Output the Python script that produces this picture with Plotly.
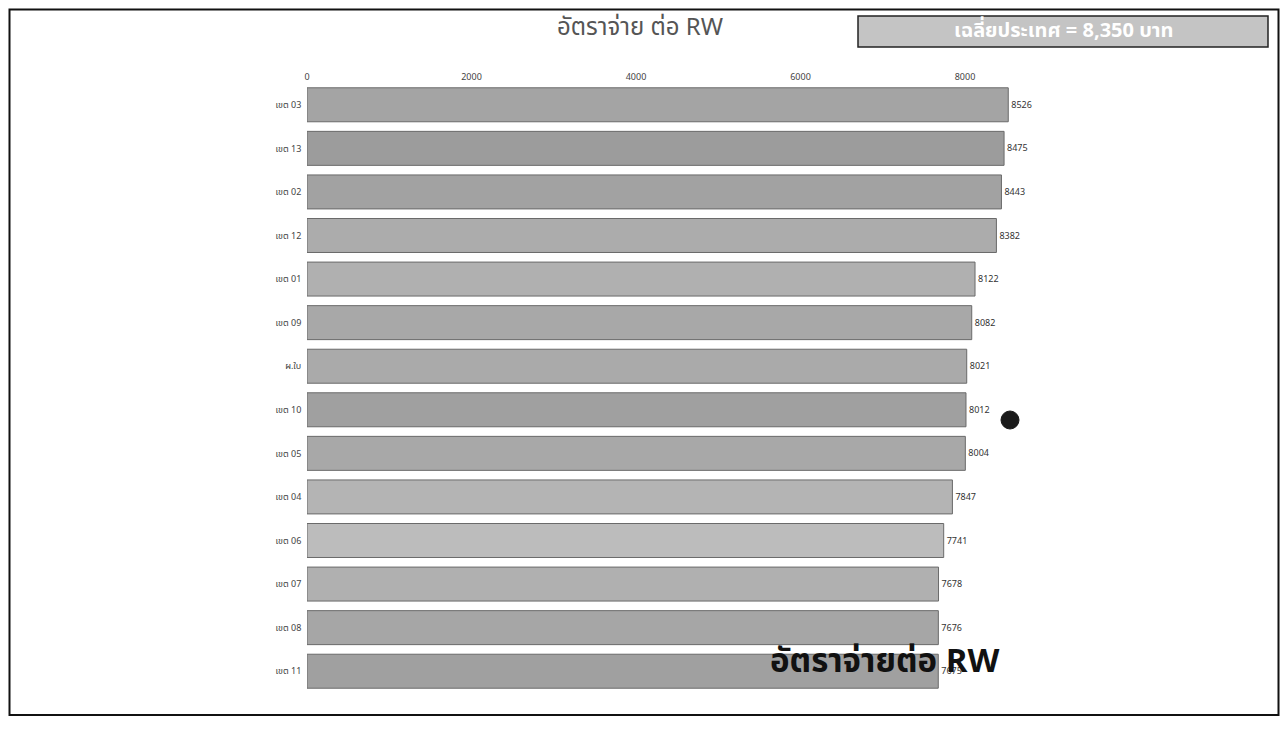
"""
Horizontal bar chart: payment rate per RW by health region (scanned slide look).
"""

import plotly.graph_objects as go

# Data
regions = ['เขต 03', 'เขต 13', 'เขต 02', 'เขต 12', 'เขต 01', 'เขต 09', 'ผ.ใบ',
           'เขต 10', 'เขต 05', 'เขต 04', 'เขต 06', 'เขต 07', 'เขต 08', 'เขต 11']
rates = [8526, 8475, 8443, 8382, 8122, 8082, 8021, 8012, 8004, 7847, 7741, 7678, 7676, 7675]
bar_greys = ['#a4a4a4', '#9c9c9c', '#a2a2a2', '#acacac', '#b0b0b0', '#a8a8a8', '#aaaaaa',
             '#a0a0a0', '#a8a8a8', '#b4b4b4', '#bcbcbc', '#b0b0b0', '#a6a6a6', '#a0a0a0']
x_ticks = [0, 2000, 4000, 6000, 8000]

title_text = 'อัตราจ่าย ต่อ RW'
overlay_text = 'อัตราจ่ายต่อ RW'
box_text = 'เฉลี่ยประเทศ = 8,350 บาท'

# the page puts the figure 8px in from the top-left corner
OFF = 8
W, H = 1288 - 2 * OFF, 731 - 2 * OFF
PL, PR, PT, PB = 307 - OFF, 1040 - OFF, 83 - OFF, 693 - OFF   # plot area in pixels
FONT = "'Noto Sans Thai', 'Noto Sans', Lato, sans-serif"


def px(x):
    # reference-picture pixel -> paper x
    return (x - OFF - PL) / (PR - PL)


def py(y):
    # reference-picture pixel -> paper y
    return (PB - (y - OFF)) / (PB - PT)


fig = go.Figure()

fig.add_trace(go.Bar(
    y=regions,
    x=rates,
    orientation='h',
    marker=dict(color=bar_greys, line=dict(color='#6a6a6a', width=1)),
    text=[str(v) for v in rates],
    textposition='outside',
    textfont=dict(size=9, color='#333333'),
    cliponaxis=False,
    showlegend=False,
))

# page frame from the scan
shapes = [dict(type='rect', xref='paper', yref='paper',
               x0=px(9.5), x1=px(1278.5), y0=py(715), y1=py(9.5),
               line=dict(color='#111111', width=2))]
# grey box top right
shapes.append(dict(type='rect', xref='paper', yref='paper',
                   x0=px(858), x1=px(1268), y0=py(47), y1=py(16),
                   fillcolor='#c4c4c4', line=dict(color='#222222', width=1.5)))
# black dot
shapes.append(dict(type='circle', xref='paper', yref='paper',
                   x0=px(1001), x1=px(1019), y0=py(429), y1=py(411),
                   fillcolor='#1a1a1a', line=dict(color='#1a1a1a', width=1)))

annotations = [
    dict(text='<b>' + box_text + '</b>', xref='paper', yref='paper',
         x=px(1063), y=py(31), xanchor='center', yanchor='middle',
         showarrow=False, font=dict(size=20, color='white', family=FONT)),
    dict(text='<b>' + overlay_text + '</b>', xref='paper', yref='paper',
         x=px(768), y=py(662), xanchor='left', yanchor='middle', showarrow=False,
         font=dict(size=33, color='#111111', family=FONT)),
]

fig.update_layout(
    width=W, height=H,
    title=dict(text=title_text, x=(640 - OFF) / W, xanchor='center',
               y=1 - (27 - OFF) / H, yanchor='middle',
               font=dict(size=24, color='#555555', family=FONT)),
    font=dict(family=FONT),
    paper_bgcolor='white',
    plot_bgcolor='white',
    bargap=0.22,
    margin=dict(l=PL, r=W - PR, t=PT, b=H - PB),
    xaxis=dict(side='top', range=[0, (PR - PL) / 0.08225], tickvals=x_ticks,
               showgrid=False, zeroline=False, showline=False,
               tickfont=dict(size=9, color='#444444')),
    yaxis=dict(autorange='reversed', showgrid=False, showline=False,
               tickfont=dict(size=9, color='#444444'), ticksuffix='  '),
    shapes=shapes,
    annotations=annotations,
)

fig.write_html("out.html")
